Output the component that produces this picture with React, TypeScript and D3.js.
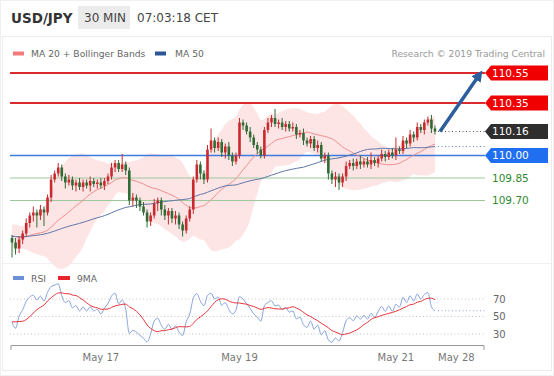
import React from "react";
import * as d3 from "d3";

// ---------- data ----------
const symbol = "USD/JPY";
const timeframe = "30 MIN";
const clock = "07:03:18 CET";
const credit = "Research © 2019 Trading Central";

// closes before the visible window (feed the moving averages / RSI)
const warmupCloses = [
  109.52, 109.5, 109.48, 109.51, 109.47, 109.44, 109.46, 109.49, 109.45, 109.42,
  109.44, 109.47, 109.5, 109.48, 109.45, 109.43, 109.46, 109.49, 109.51, 109.48,
  109.46, 109.44, 109.41, 109.43, 109.46, 109.48, 109.45, 109.42, 109.4, 109.43,
  109.47, 109.5, 109.52, 109.49, 109.46, 109.44, 109.47, 109.5, 109.53, 109.51,
  109.48, 109.45, 109.42, 109.46, 109.49, 109.47, 109.44, 109.41, 109.39, 109.45,
];

const closes = [
  109.42, 109.38, 109.44, 109.48, 109.55, 109.6, 109.62, 109.6, 109.64, 109.62,
  109.72, 109.84, 109.88, 109.92, 109.86, 109.82, 109.84, 109.8, 109.82, 109.79,
  109.82, 109.8, 109.83, 109.81, 109.82, 109.8, 109.83, 109.86, 109.92, 109.95,
  109.91, 109.94, 109.9, 109.7, 109.72, 109.7, 109.66, 109.62, 109.56, 109.6,
  109.68, 109.7, 109.64, 109.6, 109.63, 109.58, 109.6, 109.54, 109.5, 109.58,
  109.64, 109.84, 109.94, 109.88, 109.84, 110.04, 110.1, 110.05, 110.09, 110.02,
  110.06, 110.0, 109.96, 110.0, 110.22, 110.2, 110.16, 110.12, 110.07, 110.04,
  110.0, 110.17, 110.22, 110.25, 110.21, 110.22, 110.19, 110.21, 110.18, 110.19,
  110.14, 110.15, 110.1, 110.08, 110.11, 110.05, 110.07, 109.98, 110.0, 109.88,
  109.84, 109.86, 109.82, 109.86, 109.93, 109.95, 109.93, 109.96, 109.94, 109.96,
  109.94, 109.97, 109.95, 109.98, 110.01, 109.99, 110.02, 110.0, 110.04, 110.03,
  110.1, 110.08, 110.14, 110.12, 110.19, 110.17, 110.22, 110.24, 110.18, 110.16,
];

// wick lengths in pips (0.01)
const upperWicks = [
  2, 3, 2, 2, 3, 2, 4, 2, 3, 2, 2, 3, 2, 3, 2, 2, 3, 2, 2, 3,
  2, 2, 3, 2, 2, 3, 2, 2, 3, 2, 2, 7, 2, 2, 3, 2, 2, 3, 2, 2,
  3, 2, 2, 3, 2, 2, 3, 2, 2, 2, 2, 2, 3, 2, 2, 3, 8, 2, 3, 2,
  2, 3, 2, 2, 3, 2, 2, 3, 2, 2, 2, 2, 3, 2, 6, 2, 3, 2, 2, 3,
  2, 2, 3, 2, 2, 2, 3, 2, 2, 2, 2, 3, 2, 2, 3, 2, 3, 2, 4, 2,
  3, 5, 2, 2, 3, 2, 2, 3, 8, 2, 3, 2, 3, 2, 3, 2, 2, 2, 3, 2,
];
const lowerWicks = [
  10, 4, 3, 3, 2, 3, 4, 8, 3, 9, 2, 3, 2, 2, 3, 4, 2, 3, 4, 2,
  3, 2, 4, 2, 3, 2, 3, 2, 2, 3, 2, 2, 3, 3, 4, 5, 3, 2, 4, 3,
  2, 5, 4, 3, 6, 3, 4, 3, 4, 2, 2, 3, 2, 4, 3, 2, 2, 3, 2, 3,
  4, 3, 3, 2, 2, 3, 2, 3, 2, 3, 2, 2, 2, 3, 2, 3, 2, 3, 2, 2,
  3, 2, 3, 2, 3, 2, 3, 2, 3, 4, 3, 5, 5, 3, 3, 2, 3, 2, 3, 2,
  2, 3, 2, 3, 2, 3, 2, 2, 3, 2, 2, 3, 2, 3, 2, 2, 3, 2, 3, 2,
];

const resistanceLevels = [110.55, 110.35];
const pivotLevel = 110.0;
const supportLevels = [109.85, 109.7];
const targetLevel = 110.55;
const targetIndex = 132;

const dateTicks = [
  { label: "May 17", index: 25 },
  { label: "May 19", index: 64 },
  { label: "May 21", index: 108 },
  { label: "May 28", index: 125 },
];
const rsiTicks = [70, 50, 30];

// ---------- indicators ----------
const allCloses = [...warmupCloses, ...closes];
const W0 = warmupCloses.length;

function sma(vals: number[], n: number): number[] {
  return vals.map((_, i) => {
    const s = vals.slice(Math.max(0, i - n + 1), i + 1).filter((v) => !isNaN(v));
    return s.length ? d3.mean(s)! : NaN;
  });
}
function stdev(vals: number[], n: number): number[] {
  return vals.map((_, i) => {
    const s = vals.slice(Math.max(0, i - n + 1), i + 1);
    const m = d3.mean(s)!;
    return Math.sqrt(d3.mean(s.map((v) => (v - m) ** 2))!);
  });
}
// RSI with exponential averages of gains / losses
function rsiCalc(vals: number[], n = 14): number[] {
  const a = 2 / (n + 1);
  const out = new Array(vals.length).fill(NaN);
  let g = 0, l = 0;
  for (let i = 1; i <= n; i++) {
    const d = vals[i] - vals[i - 1];
    if (d > 0) g += d; else l -= d;
  }
  g /= n; l /= n;
  out[n] = 100 - 100 / (1 + g / l);
  for (let i = n + 1; i < vals.length; i++) {
    const d = vals[i] - vals[i - 1];
    g = g + a * (Math.max(d, 0) - g);
    l = l + a * (Math.max(-d, 0) - l);
    out[i] = l === 0 ? 100 : 100 - 100 / (1 + g / l);
  }
  return out;
}

const ma20All = sma(allCloses, 20);
const sd20All = stdev(allCloses, 20);
const ma50All = sma(allCloses, 50);
const rsiAll = rsiCalc(allCloses, 14);
const rsiMaAll = sma(rsiAll, 9);

const ma20 = ma20All.slice(W0);
const upper = ma20.map((m, i) => m + 2 * sd20All[W0 + i]);
const lower = ma20.map((m, i) => m - 2 * sd20All[W0 + i]);
const ma50 = ma50All.slice(W0);
const rsi = rsiAll.slice(W0);
const rsiMa = rsiMaAll.slice(W0);

const FONT = "'DejaVu Sans', Verdana, sans-serif";

export default function App() {
  const n = closes.length;
  const x = d3.scaleLinear().domain([0, n - 1]).range([12, 435]);
  const y = d3.scaleLinear().domain([109.7, 110.55]).range([200.5, 73]);
  const yr = d3.scaleLinear().domain([30, 70]).range([334, 299]);
  const idx = d3.range(n);

  const band = d3
    .area<number>()
    .x((i) => x(i))
    .y0((i) => y(lower[i]))
    .y1((i) => y(upper[i]))
    .curve(d3.curveMonotoneX)(idx)!;
  const lineOf = (arr: number[], sc: (v: number) => number) =>
    d3
      .line<number>()
      .x((i) => x(i))
      .y((i) => sc(arr[i]))
      .curve(d3.curveMonotoneX)(idx)!;

  const lastClose = closes[n - 1];
  const lastMa50 = ma50[n - 1];
  const lastRsi = rsi[n - 1];
  const lineX0 = 10;
  const lineX1 = 485;
  const labelX = 485;
  const labelX1 = 548;

  const tag = (cy: number, h: number) =>
    `M${labelX},${cy} L${labelX + 6},${cy - h / 2} L${labelX1},${cy - h / 2} L${labelX1},${cy + h / 2} L${labelX + 6},${cy + h / 2} Z`;

  const ax0 = x(n - 1) + 5;
  const ay0 = y(lastClose);
  const ax1 = x(targetIndex) - 2;
  const ay1 = y(targetLevel) + 2;

  return (
    <div style={{ position: "absolute", left: 0, top: 0, width: 554, height: 376, background: "#fff" }}>
      <svg width={554} height={376} style={{ display: "block", fontFamily: FONT }}>
        <defs>
          <marker id="ah" viewBox="0 0 10 10" refX="5" refY="5" markerWidth="3.2" markerHeight="3.2" orient="auto">
            <path d="M0,0 L10,5 L0,10 Z" fill="#2c5e9e" />
          </marker>
        </defs>
        <rect x={0.5} y={0.5} width={553} height={375} fill="#fff" stroke="#f0f0f0" />
        <rect x={2.5} y={36.5} width={549} height={334} fill="none" stroke="#ececec" />
        <line x1={3} x2={551} y1={263.5} y2={263.5} stroke="#f0f0f0" />

        {/* header */}
        <text x={11} y={23} fontSize={13.5} fontWeight="bold" fill="#333">{symbol}</text>
        <rect x={78} y={6} width={52} height={23} fill="#ebebeb" />
        <text x={84} y={22} fontSize={12} fill="#444">{timeframe}</text>
        <text x={137} y={22} fontSize={12} fill="#444">{clock}</text>

        {/* legend */}
        <rect x={13} y={51.5} width={11} height={4} fill="#f27a7a" />
        <text x={31} y={57} fontSize={9.2} fill="#666">MA 20 + Bollinger Bands</text>
        <rect x={155} y={51.5} width={11} height={4} fill="#2c5595" />
        <text x={175} y={57} fontSize={9.2} fill="#666">MA 50</text>
        <text x={545} y={57} fontSize={9.2} fill="#999" textAnchor="end">{credit}</text>

        {/* bollinger band */}
        <path d={band} fill="#fde0e0" opacity={0.85} />

        {/* levels */}
        {supportLevels.map((v) => (
          <line key={v} x1={lineX0} x2={lineX1} y1={y(v)} y2={y(v)} stroke="#9cc89c" strokeWidth={1} />
        ))}
        <line x1={lineX0} x2={lineX1} y1={y(pivotLevel)} y2={y(pivotLevel)} stroke="#3d7be0" strokeWidth={1.3} />
        {resistanceLevels.map((v) => (
          <line key={v} x1={lineX0} x2={lineX1} y1={y(v)} y2={y(v)} stroke="#d92b2b" strokeWidth={2} />
        ))}

        {/* moving averages */}
        <path d={lineOf(ma20, y)} fill="none" stroke="#ef8f8f" strokeWidth={1} />
        <path d={lineOf(ma50, y)} fill="none" stroke="#6176a8" strokeWidth={1} />

        {/* candles */}
        {idx.map((i) => {
          const o = i === 0 ? warmupCloses[W0 - 1] : closes[i - 1];
          const c = closes[i];
          const hi = Math.max(o, c) + upperWicks[i] / 100;
          const lo = Math.min(o, c) - lowerWicks[i] / 100;
          const col = c >= o ? "#c92a2f" : "#2f6b35";
          const cx = x(i);
          const top = y(Math.max(o, c));
          const bh = Math.max(1, y(Math.min(o, c)) - top);
          return (
            <g key={i}>
              <line x1={cx} x2={cx} y1={y(hi)} y2={y(lo)} stroke={col} strokeWidth={1} />
              <rect x={cx - 1.3} y={top} width={2.6} height={bh} fill={col} />
            </g>
          );
        })}

        {/* current price / MA50 dotted */}
        <line x1={x(n - 1) + 3} x2={lineX1} y1={y(lastClose)} y2={y(lastClose)} stroke="#555" strokeDasharray="1,2.5" />
        <line x1={x(n - 1) + 3} x2={lineX1} y1={y(lastMa50)} y2={y(lastMa50)} stroke="#5c7fc0" strokeDasharray="1,2.5" />

        {/* arrow */}
        <line x1={ax0} y1={ay0} x2={ax1} y2={ay1} stroke="#2c5e9e" strokeWidth={3.5} markerEnd="url(#ah)" />

        {/* tags */}
        {resistanceLevels.map((v) => (
          <g key={v}>
            <path d={tag(y(v), 15)} fill="#f00000" />
            <text x={492} y={y(v) + 3.8} fontSize={10.5} fill="#fff">{v.toFixed(2)}</text>
          </g>
        ))}
        <path d={tag(y(lastClose), 15)} fill="#2e2e2e" />
        <text x={492} y={y(lastClose) + 3.8} fontSize={10.5} fill="#fff">{lastClose.toFixed(2)}</text>
        <path d={tag(y(pivotLevel), 15)} fill="#1f6ff0" />
        <text x={492} y={y(pivotLevel) + 3.8} fontSize={10.5} fill="#fff">{pivotLevel.toFixed(2)}</text>
        {supportLevels.map((v) => (
          <text key={v} x={492} y={y(v) + 3.8} fontSize={10.5} fill="#2f8a2f">{v.toFixed(2)}</text>
        ))}

        {/* RSI panel */}
        <rect x={13} y={276} width={11} height={4} fill="#6d8fd6" />
        <text x={31} y={281.5} fontSize={9.2} fill="#666">RSI</text>
        <rect x={58} y={276} width={12} height={4} fill="#e8242a" />
        <text x={77} y={281.5} fontSize={9.2} fill="#666">9MA</text>
        {rsiTicks.map((t) => (
          <g key={t}>
            <line x1={lineX0} x2={lineX1} y1={yr(t)} y2={yr(t)} stroke="#c4c4c4" strokeDasharray="1,2.5" />
            <text x={493} y={yr(t) + 3.5} fontSize={10} fill="#666">{t}</text>
          </g>
        ))}
        <line x1={x(n - 1) + 3} x2={lineX1} y1={yr(lastRsi)} y2={yr(lastRsi)} stroke="#8aa0cc" strokeDasharray="1,2.5" />
        <path d={lineOf(rsi, yr)} fill="none" stroke="#86a2dc" strokeWidth={1} />
        <path d={lineOf(rsiMa, yr)} fill="none" stroke="#e8343a" strokeWidth={1} />

        {/* x axis */}
        <path d={`M${lineX0 + 1},350 V345.5 H${lineX1 - 1} V350`} fill="none" stroke="#999" strokeWidth={1} />
        {dateTicks.map((t) => (
          <text key={t.label} x={x(t.index)} y={361} fontSize={10} fill="#777" textAnchor="middle">{t.label}</text>
        ))}
      </svg>
    </div>
  );
}
